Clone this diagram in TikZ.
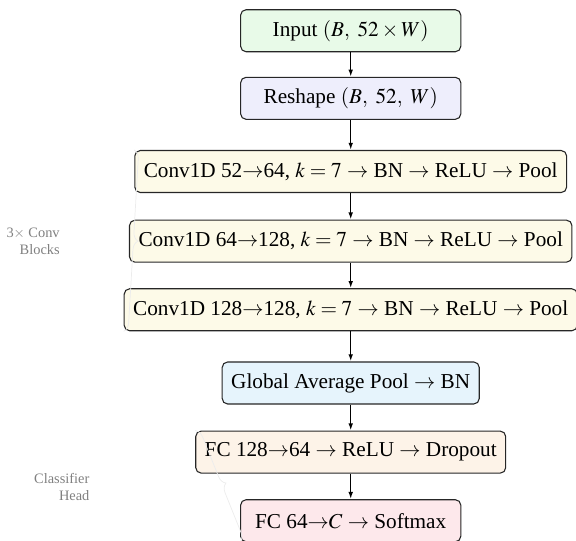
\documentclass[tikz,border=0pt]{standalone}
\usepackage{amsmath, amssymb}
\usepackage{mathptmx}
\usepackage{fontspec}
\setmainfont{Liberation Serif}
\usepackage{xcolor}
\usepackage{tikz}
\usetikzlibrary{arrows.meta, positioning, calc, decorations.pathreplacing}

\definecolor{inputcol}{RGB}{232,250,232}
\definecolor{reshapecol}{RGB}{238,238,252}
\definecolor{convcol}{RGB}{253,250,232}
\definecolor{poolcol}{RGB}{230,244,252}
\definecolor{fccol}{RGB}{253,243,232}
\definecolor{outcol}{RGB}{253,232,235}

\begin{document}
\begin{tikzpicture}[
    block/.style={rectangle, rounded corners=3pt, draw=black!85, semithick,
        minimum width=4.3cm, minimum height=0.82cm, inner xsep=5pt, align=center,
        font=\fontsize{11.8}{14}\selectfont},
    arr/.style={-{Latex[length=4pt, width=2.6pt]}, thick},
    grp/.style={decorate, decoration={brace, amplitude=5pt}, gray!15},
    grplabel/.style={gray, font=\footnotesize, align=right, anchor=east}
]
    \useasboundingbox (0, 0) rectangle (11.25, -10.55);

    % 输入
    \node[block, fill=inputcol] (input) at (6.85, -0.60) {Input $(B,\ 52\times W)$};
    \node[block, fill=reshapecol] (reshape) at (6.85, -1.92) {Reshape $(B,\ 52,\ W)$};

    % 卷积块
    \node[block, fill=convcol] (conv1) at (6.85, -3.35) {Conv1D 52$\to$64, $k=7$ $\to$ BN $\to$ ReLU $\to$ Pool};
    \node[block, fill=convcol] (conv2) at (6.85, -4.71) {Conv1D 64$\to$128, $k=7$ $\to$ BN $\to$ ReLU $\to$ Pool};
    \node[block, fill=convcol] (conv3) at (6.85, -6.05) {Conv1D 128$\to$128, $k=7$ $\to$ BN $\to$ ReLU $\to$ Pool};

    % 分类头
    \node[block, fill=poolcol] (gap) at (6.85, -7.48) {Global Average Pool $\to$ BN};
    \node[block, fill=fccol] (fc1) at (6.85, -8.83) {FC 128$\to$64 $\to$ ReLU $\to$ Dropout};
    \node[block, fill=outcol] (fc2) at (6.85, -10.17) {FC 64$\to$$C$ $\to$ Softmax};

    % 箭头
    \draw[arr] (input) -- (reshape);
    \draw[arr] (reshape) -- (conv1);
    \draw[arr] (conv1) -- (conv2);
    \draw[arr] (conv2) -- (conv3);
    \draw[arr] (conv3) -- (gap);
    \draw[arr] (gap) -- (fc1);
    \draw[arr] (fc1) -- (fc2);

    % 分组
    \draw[grp] (conv1.north west) -- (conv3.south west);
    \node[grplabel] (convlabel) at (1.29, -4.71) {3$\times$ Conv\\Blocks};
    \draw[grp] (fc1.north west) -- (fc2.south west);
    \node[grplabel] (headlabel) at (1.87, -9.51) {Classifier\\Head};
\end{tikzpicture}
\end{document}
